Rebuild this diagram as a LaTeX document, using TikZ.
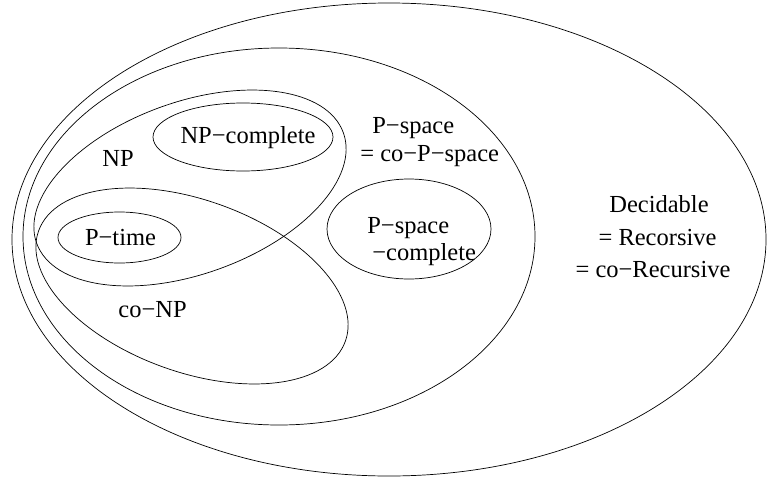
\documentclass[tikz,border=0pt]{standalone}
\usepackage{fontspec}
\setmainfont{Liberation Serif}
\begin{document}
\begin{tikzpicture}[x=1pt,y=-1pt,line width=0.7pt,
  lbl/.style={font=\fontsize{24.5}{28}\selectfont,inner sep=0pt}]
\useasboundingbox (0,0) rectangle (767,479);
% sets
\draw (389,239.5) ellipse [x radius=377, y radius=236.5];
\draw (279,236.5) ellipse [x radius=256, y radius=188.5];
\draw[rotate around={19.8:(190,188)}] (190,188) ellipse [x radius=163, y radius=86];
\draw[rotate around={-19.8:(192,286)}] (192,286) ellipse [x radius=163, y radius=86];
\draw (243,137) ellipse [x radius=90, y radius=34];
\draw (119.5,237.5) ellipse [x radius=61.5, y radius=25.5];
\draw (409,229) ellipse [x radius=82, y radius=50];
% labels
\node[lbl,anchor=base] (np) at (118,166) {NP};
\node[lbl,anchor=base] (npc) at (248,143) {NP−complete};
\node[lbl,anchor=base] (pt) at (120.5,245) {P−time};
\node[lbl,anchor=base] (conp) at (152.5,317) {co−NP};
\node[lbl,anchor=base west] (ps1) at (372,133) {P−space};
\node[lbl,anchor=base west] (ps2) at (360,161) {= co−P−space};
\node[lbl,anchor=base west] (psc1) at (367,233) {P−space};
\node[lbl,anchor=base west] (psc2) at (372,260) {−complete};
\node[lbl,anchor=base] (dec1) at (659,212) {Decidable};
\node[lbl,anchor=base] (dec2) at (657.5,245) {= Recorsive};
\node[lbl,anchor=base] (dec3) at (653,277) {= co−Recursive};
\end{tikzpicture}
\end{document}
